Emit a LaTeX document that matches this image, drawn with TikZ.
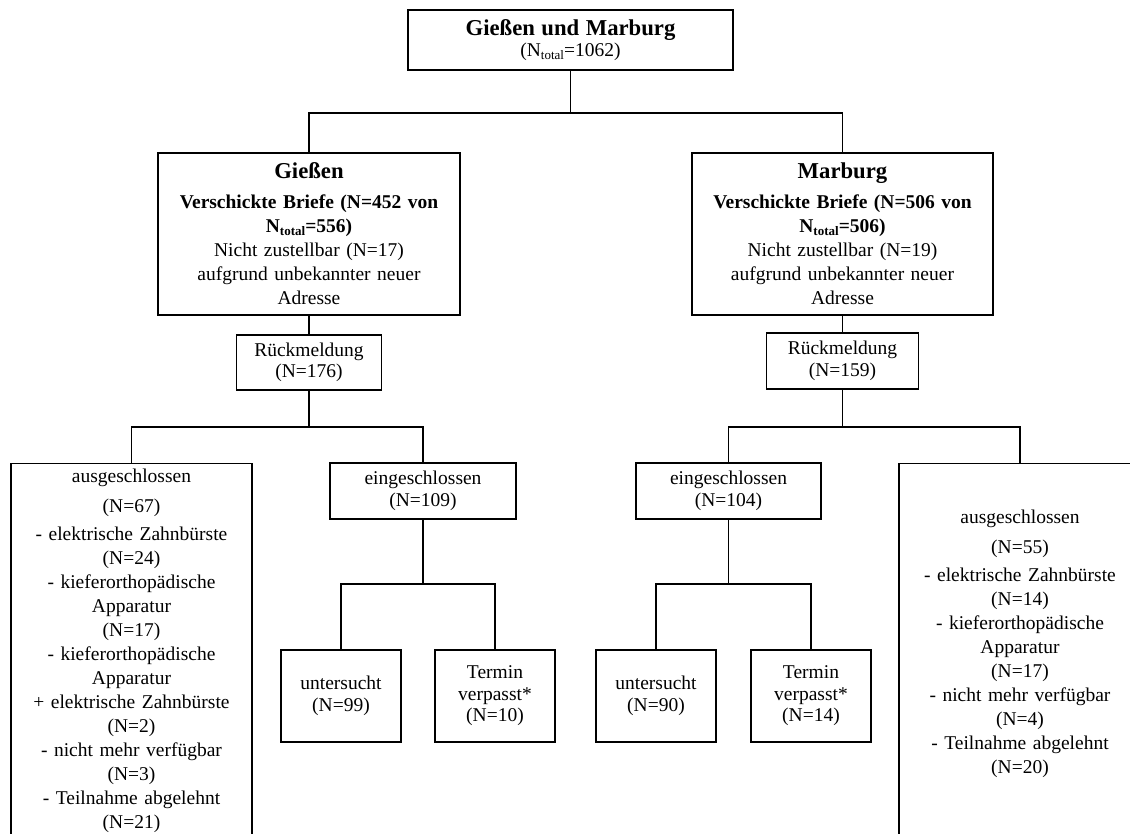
\documentclass[tikz,border=0pt]{standalone}
\usepackage{fontspec}
\setmainfont{Liberation Serif}
\newcommand{\tot}{\raisebox{-0.3ex}{\fontsize{13}{13}\selectfont total}}
\newcommand{\Head}[1]{{\fontsize{22.7}{24}\selectfont\bfseries #1}}

\begin{document}
\begin{tikzpicture}[x=1pt, y=-1pt, line width=1.3pt,
  box/.style={draw, align=center, inner sep=0pt, font=\fontsize{19.5}{21.5}\selectfont},
  bigbox/.style={box, font=\fontsize{19.5}{24}\selectfont}]

  \useasboundingbox (0,0) rectangle (1130,834);
  \clip (0,0) rectangle (1130,834);

  \node[box, minimum width=325pt, minimum height=60pt, text width=315pt] (top) at (570.5,40) {\Head{Gießen und Marburg}\\(N\tot=1062)};

  \node[bigbox, minimum width=302pt, minimum height=162pt, text width=296pt] (gie) at (309,234) {\Head{Gießen}\\[6pt] \textbf{Verschickte Briefe (N=452 von}\\ \textbf{N\tot=556)}\\ Nicht zustellbar (N=17)\\ aufgrund unbekannter neuer\\ Adresse};
  \node[bigbox, minimum width=301pt, minimum height=162pt, text width=295pt] (mar) at (842.5,234) {\Head{Marburg}\\[6pt] \textbf{Verschickte Briefe (N=506 von}\\ \textbf{N\tot=506)}\\ Nicht zustellbar (N=19)\\ aufgrund unbekannter neuer\\ Adresse};

  \node[box, minimum width=145pt, minimum height=55pt, text width=139pt] (rgie) at (309,362.5) {Rückmeldung\\(N=176)};
  \node[box, minimum width=152pt, minimum height=56pt, text width=146pt] (rmar) at (842.5,361) {Rückmeldung\\(N=159)};

  \node[bigbox, anchor=north, minimum width=241pt, minimum height=375pt, text width=235pt] (lexcl) at (131.5,463) {ausgeschlossen\\[6pt](N=67)\\[4pt]- elektrische Zahnbürste\\(N=24)\\- kieferorthopädische\\Apparatur\\(N=17)\\- kieferorthopädische\\Apparatur\\+ elektrische Zahnbürste\\(N=2)\\- nicht mehr verfügbar\\(N=3)\\- Teilnahme abgelehnt\\(N=21)};
  \node[box, minimum width=186pt, minimum height=56pt, text width=180pt] (egie) at (423,491) {eingeschlossen\\(N=109)};
  \node[box, minimum width=185pt, minimum height=56pt, text width=179pt] (emar) at (728.5,491) {eingeschlossen\\(N=104)};
  \node[bigbox, anchor=north, minimum width=242pt, minimum height=420pt, text width=236pt] (rexcl) at (1020,463) {ausgeschlossen\\[6pt](N=55)\\[4pt]- elektrische Zahnbürste\\(N=14)\\- kieferorthopädische\\Apparatur\\(N=17)\\- nicht mehr verfügbar\\(N=4)\\- Teilnahme abgelehnt\\(N=20)\\[40pt]\mbox{}};

  \node[box, minimum width=120pt, minimum height=92pt, text width=114pt] (ugie) at (341,696) {untersucht\\(N=99)};
  \node[box, minimum width=120pt, minimum height=92pt, text width=114pt] (tgie) at (495,696) {Termin\\verpasst*\\(N=10)};
  \node[box, minimum width=120pt, minimum height=92pt, text width=114pt] (umar) at (656,696) {untersucht\\(N=90)};
  \node[box, minimum width=120pt, minimum height=92pt, text width=114pt] (tmar) at (811,696) {Termin\\verpasst*\\(N=14)};

  \coordinate (jtop) at (570.5,113);
  \draw (top.south) -- (jtop);
  \draw (gie.north) |- (jtop) -| (mar.north); %% top -> Giessen, Marburg
  \draw (gie.south) -- (rgie.north);
  \draw (mar.south) -- (rmar.north);

  \coordinate (jgie) at (309,427);
  \draw (rgie.south) -- (jgie);
  \draw (lexcl.north) |- (jgie) -| (egie.north); %% Rueckmeldung -> aus/ein
  \coordinate (jmar) at (842.5,427);
  \draw (rmar.south) -- (jmar);
  \draw (emar.north) |- (jmar) -| (rexcl.north);

  \coordinate (jeg) at (423,584);
  \draw (egie.south) -- (jeg);
  \draw (ugie.north) |- (jeg) -| (tgie.north); %% ein -> untersucht/Termin
  \coordinate (jem) at (728.5,584);
  \draw (emar.south) -- (jem);
  \draw (umar.north) |- (jem) -| (tmar.north);

\end{tikzpicture}
\end{document}
